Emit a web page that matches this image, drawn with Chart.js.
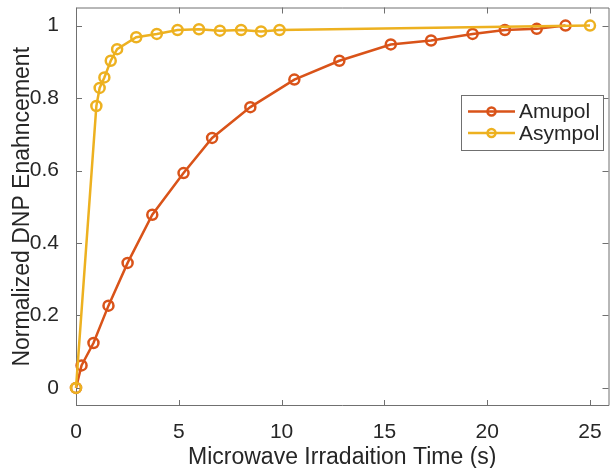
<!DOCTYPE html>
<html>
<head>
<meta charset="utf-8">
<script src="https://cdn.jsdelivr.net/npm/chart.js@4/dist/chart.umd.min.js"></script>
<style>
  html, body { margin: 0; padding: 0; background: #fff; }
  #chart { display: block; }
</style>
</head>
<body>
<canvas id="chart" width="616" height="468"></canvas>
<script>
const seriesNames = ['Amupol', 'Asympol'];
const seriesColors = ['#D95319', '#EDB120'];

const amupolTime = [0, 0.27, 0.85, 1.58, 2.51, 3.71, 5.23, 6.62, 8.48, 10.62, 12.81, 15.31, 17.27, 19.29, 20.86, 22.41, 23.81];
const amupolValue = [0, 0.062, 0.124, 0.227, 0.345, 0.478, 0.593, 0.690, 0.775, 0.851, 0.903, 0.948, 0.959, 0.977, 0.988, 0.991, 1.0];

const asympolTime = [0, 0.99, 1.15, 1.38, 1.69, 2.0, 2.93, 3.93, 4.94, 5.98, 7.0, 8.03, 9.0, 9.9, 25];
const asympolValue = [0, 0.778, 0.828, 0.857, 0.903, 0.935, 0.968, 0.977, 0.988, 0.990, 0.986, 0.988, 0.984, 0.988, 1.0];

const xTicks = [0, 5, 10, 15, 20, 25];
const yTicks = [0, 0.2, 0.4, 0.6, 0.8, 1];

const fontFamily = '"Liberation Sans", Helvetica, Arial, sans-serif';
const textColor = '#262626';
const axisColor = '#707070';

function toPoints(xs, ys) {
  return xs.map((x, i) => ({ x: x, y: ys[i] }));
}

// matlab style box, ticks pointing inward on all four sides
const boxAxes = {
  id: 'boxAxes',
  beforeDatasetsDraw(chart) {
    const { ctx, chartArea: a } = chart;
    const xs = chart.scales.x;
    const ys = chart.scales.y;
    const len = 6;
    ctx.save();
    ctx.strokeStyle = axisColor;
    ctx.lineWidth = 1;
    ctx.beginPath();
    ctx.rect(a.left + 0.5, a.top + 0.5, a.right - a.left, a.bottom - a.top - 1);
    xs.ticks.forEach(t => {
      const px = Math.round(xs.getPixelForValue(t.value)) + 0.5;
      ctx.moveTo(px, a.bottom); ctx.lineTo(px, a.bottom - len);
      ctx.moveTo(px, a.top); ctx.lineTo(px, a.top + len);
    });
    ys.ticks.forEach(t => {
      const py = Math.round(ys.getPixelForValue(t.value)) + 0.5;
      ctx.moveTo(a.left, py); ctx.lineTo(a.left + len, py);
      ctx.moveTo(a.right, py); ctx.lineTo(a.right - len, py);
    });
    ctx.stroke();
    ctx.restore();
  }
};

// legend box inside the axes, upper right
const boxLegend = {
  id: 'boxLegend',
  afterDraw(chart) {
    const ctx = chart.ctx;
    const left = 461.5, top = 95.5, w = 142, h = 55;
    const rows = [111.5, 133];
    ctx.save();
    ctx.fillStyle = '#fff';
    ctx.strokeStyle = axisColor;
    ctx.lineWidth = 1;
    ctx.fillRect(left, top, w, h);
    ctx.strokeRect(left, top, w, h);
    chart.data.datasets.forEach((ds, i) => {
      const y = rows[i];
      ctx.strokeStyle = ds.borderColor;
      ctx.lineWidth = 2.5;
      ctx.beginPath();
      ctx.moveTo(468, y); ctx.lineTo(515, y);
      ctx.stroke();
      ctx.beginPath();
      ctx.arc(491.5, y, 4, 0, Math.PI * 2);
      ctx.stroke();
      ctx.fillStyle = textColor;
      ctx.font = '21px ' + fontFamily;
      ctx.textBaseline = 'middle';
      ctx.textAlign = 'left';
      ctx.fillText(ds.label, 519, y + 1);
    });
    ctx.restore();
  }
};

function makeSet(i, xs, ys, order) {
  return {
    label: seriesNames[i],
    data: toPoints(xs, ys),
    borderColor: seriesColors[i],
    backgroundColor: seriesColors[i],
    borderWidth: 2.5,
    pointRadius: 5,
    pointBorderWidth: 2.5,
    pointBackgroundColor: 'rgba(255,255,255,0)',
    pointBorderColor: seriesColors[i],
    tension: 0,
    clip: false,
    order: order,
  };
}

function renderChart() {
  const canvas = document.getElementById('chart');
  new Chart(canvas, {
    type: 'line',
    plugins: [boxAxes, boxLegend],
    data: {
      datasets: [
        makeSet(0, amupolTime, amupolValue, 1),
        makeSet(1, asympolTime, asympolValue, 0),
      ]
    },
    options: {
      responsive: false,
      animation: false,
      devicePixelRatio: 1,
      layout: {
        padding: { top: 7, right: 0, bottom: 0, left: 0 }
      },
      scales: {
        x: {
          type: 'linear',
          min: 0,
          max: 25.9,
          afterBuildTicks: s => { s.ticks = xTicks.map(v => ({ value: v })); },
          afterFit: s => {
            s.height = 62;
            s.paddingLeft = 0;
            s.paddingRight = 0;
          },
          grid: { display: false },
          border: { display: false },
          ticks: {
            color: textColor,
            font: { family: fontFamily, size: 21 },
            padding: 6,
            maxRotation: 0,
            autoSkip: false,
          },
          title: {
            display: true,
            text: 'Microwave Irradaition Time (s)',
            color: textColor,
            font: { family: fontFamily, size: 23 },
            padding: { top: 0, bottom: -3 },
          },
        },
        y: {
          min: -0.05,
          max: 1.05,
          afterBuildTicks: s => { s.ticks = yTicks.map(v => ({ value: v })); },
          afterFit: s => {
            s.width = 76;
            s.paddingTop = 0;
            s.paddingBottom = 0;
          },
          grid: { display: false },
          border: { display: false },
          ticks: {
            color: textColor,
            font: { family: fontFamily, size: 21 },
            padding: 9,
            callback: v => String(+v.toFixed(1)),
          },
          title: {
            display: true,
            text: 'Normalized DNP Enahncement',
            color: textColor,
            font: { family: fontFamily, size: 23 },
            padding: { top: 9, bottom: 0 },
          },
        },
      },
      plugins: {
        legend: { display: false },
        tooltip: { enabled: false },
      },
    },
  });
}

document.addEventListener('DOMContentLoaded', renderChart);
</script>
</body>
</html>
